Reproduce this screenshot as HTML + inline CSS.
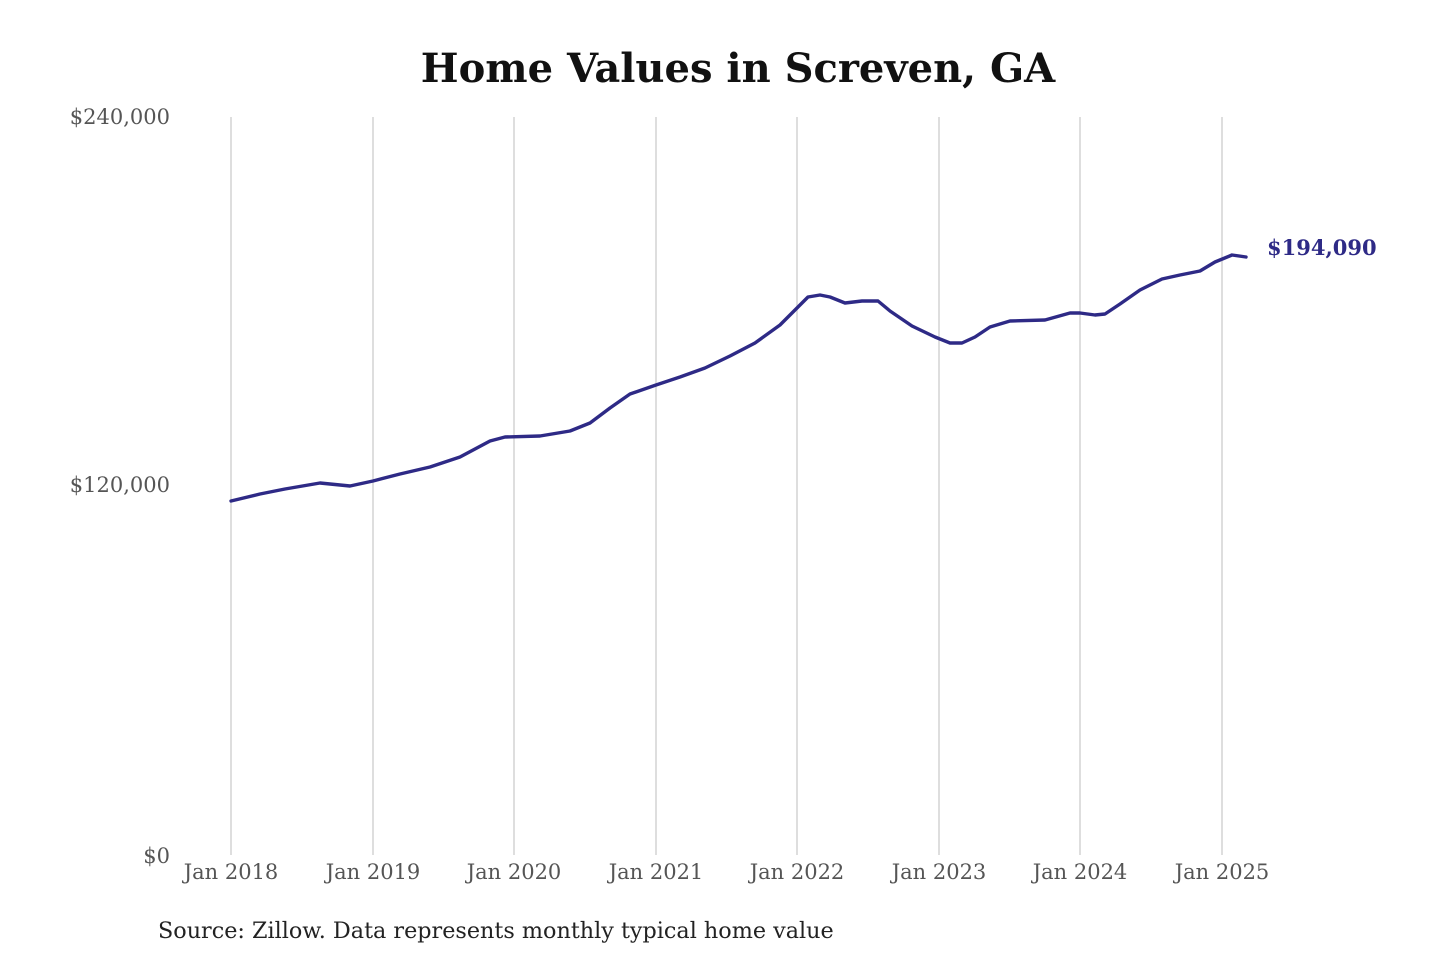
<!DOCTYPE html>
<html><head><meta charset="utf-8"><style>
html,body{margin:0;padding:0;background:#fff;width:1440px;height:960px;overflow:hidden}
svg text{font-family:"DejaVu Serif","Liberation Serif",serif}
</style></head><body>
<svg width="1440" height="960" xmlns="http://www.w3.org/2000/svg">
<text x="738" y="82" text-anchor="middle" font-size="40" font-weight="bold" fill="#111">Home Values in Screven, GA</text>
<g stroke="#c8c8c8" stroke-width="1.2">
<line x1="231" y1="117" x2="231" y2="855"/><line x1="373" y1="117" x2="373" y2="855"/>
<line x1="514" y1="117" x2="514" y2="855"/><line x1="656" y1="117" x2="656" y2="855"/>
<line x1="797" y1="117" x2="797" y2="855"/><line x1="939" y1="117" x2="939" y2="855"/>
<line x1="1080" y1="117" x2="1080" y2="855"/><line x1="1222" y1="117" x2="1222" y2="855"/>
</g>
<g font-size="21" fill="#555" text-anchor="end">
<text x="170" y="124">$240,000</text><text x="170" y="492">$120,000</text><text x="170" y="863">$0</text>
</g>
<g font-size="21" fill="#555" text-anchor="middle">
<text x="231" y="879">Jan 2018</text><text x="373" y="879">Jan 2019</text><text x="514" y="879">Jan 2020</text>
<text x="656" y="879">Jan 2021</text><text x="797" y="879">Jan 2022</text><text x="939" y="879">Jan 2023</text>
<text x="1080" y="879">Jan 2024</text><text x="1222" y="879">Jan 2025</text>
</g>
<polyline fill="none" stroke="#2e2a86" stroke-width="3.4" stroke-linejoin="round" stroke-linecap="round" points="231,501 260,494 285,489 320,483 350,486 373,481 400,474 430,467 460,457 490,441 505,437 540,436 570,431 590,423 610,408 630,394 656,385 680,377 705,368 730,356 755,343 780,325 808,297 820,295 830,297 845,303 862,301 878,301 890,311 912,326 935,337 950,343 962,343 975,337 990,327 1010,321 1045,320 1070,313 1080,313 1095,315 1105,314 1120,304 1140,290 1162,279 1180,275 1200,271 1215,262 1232,255 1246,257"/>
<text x="1267" y="255" font-size="21" font-weight="bold" fill="#2e2a86">$194,090</text>
<text x="158" y="938" font-size="22.3" fill="#222">Source: Zillow. Data represents monthly typical home value</text>
</svg>
</body></html>
